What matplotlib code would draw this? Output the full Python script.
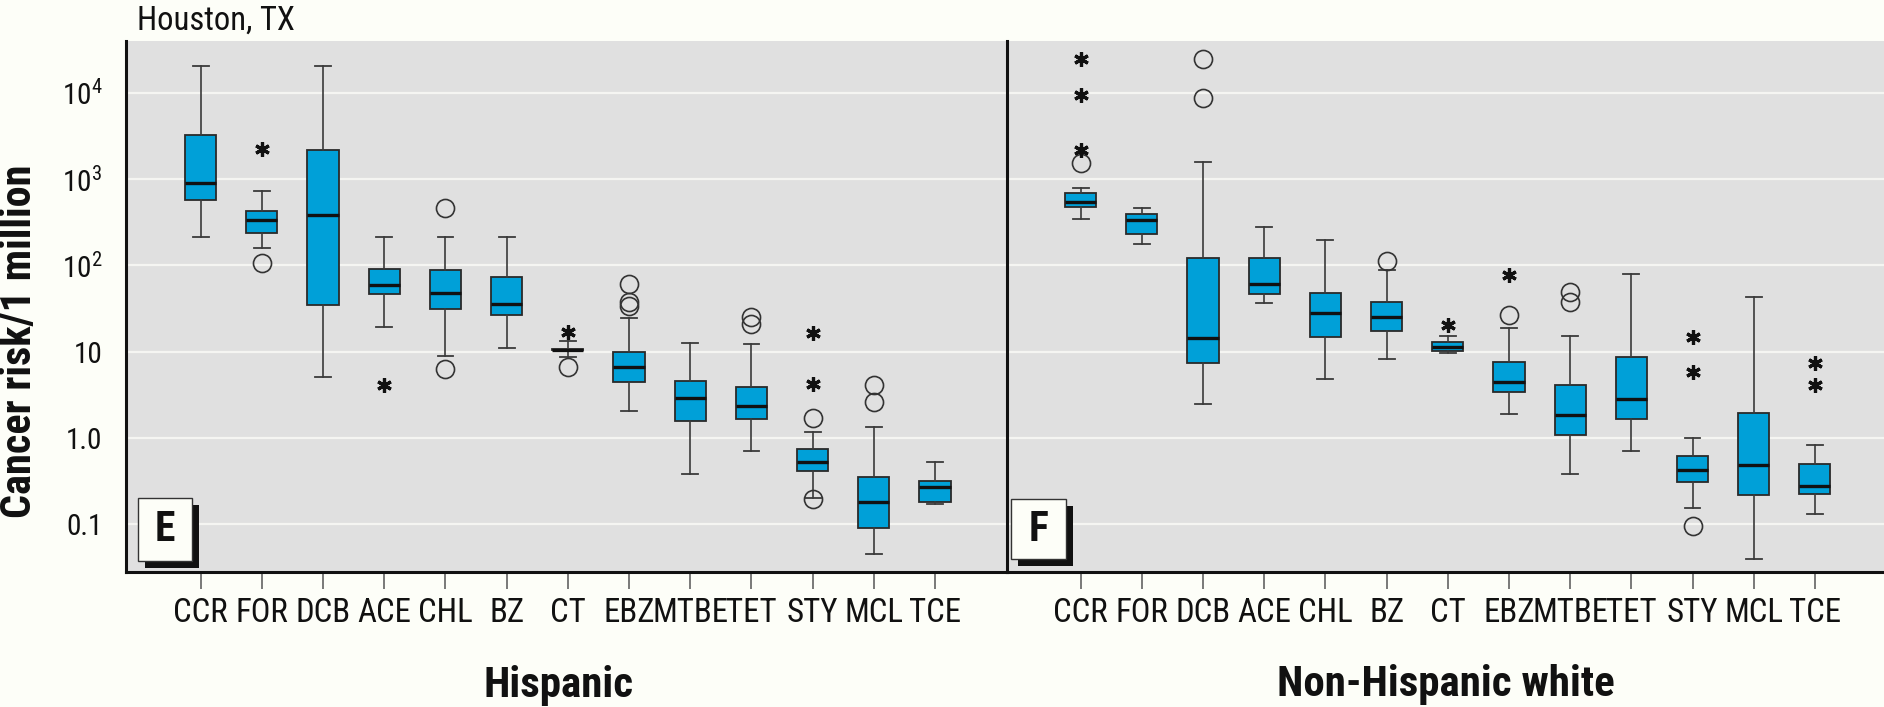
import matplotlib
matplotlib.use("Agg")
import matplotlib.pyplot as plt
from matplotlib import font_manager
from matplotlib.patches import Rectangle
from matplotlib.ticker import NullLocator

# ---------------------------------------------------------------- data
pollutants = ["CCR", "FOR", "DCB", "ACE", "CHL", "BZ", "CT",
              "EBZ", "MTBE", "TET", "STY", "MCL", "TCE"]

# Hispanic households: five-number summaries (cancer risk per million)
hisp_whislo = [214, 158, 5.14, 19.5, 8.93, 11.0, 8.6, 2.04, 0.386, 0.70, 0.20, 0.045, 0.172]
hisp_q1     = [569, 240, 34.8, 46.3, 31.0, 26.7, 10.4, 4.43, 1.56, 1.65, 0.419, 0.090, 0.183]
hisp_med    = [895, 336, 385, 59.3, 48.3, 35.5, 10.6, 6.7, 2.94, 2.37, 0.524, 0.180, 0.273]
hisp_q3     = [3220, 428, 2178, 91.6, 87.9, 74.1, 10.8, 10.0, 4.63, 3.87, 0.753, 0.356, 0.321]
hisp_whishi = [20650, 735, 20650, 211, 211, 211, 13.4, 24.4, 12.5, 12.3, 1.19, 1.33, 0.532]
hisp_outliers = [[], [106], [], [], [459, 6.27], [], [6.7], [60.5, 37.7, 34.2],
                 [], [25.5, 21.0], [1.71, 0.195], [4.12, 2.64], []]
hisp_extremes = [[], [2233], [], [4.12], [], [], [17.1], [],
                 [], [], [16.4, 4.23], [], []]

# Non-Hispanic white households
white_whislo = [345, 177, 2.50, 36.4, 4.83, 8.3, 9.6, 1.88, 0.383, 0.713, 0.153, 0.0397, 0.131]
white_q1     = [472, 231, 7.47, 46.7, 14.9, 17.5, 10.3, 3.44, 1.08, 1.65, 0.307, 0.219, 0.223]
white_med    = [548, 336, 14.3, 60.9, 27.9, 25.1, 11.3, 4.50, 1.85, 2.84, 0.427, 0.491, 0.278]
white_q3     = [697, 394, 123, 123, 48.3, 38.0, 13.1, 7.67, 4.12, 8.77, 0.62, 1.94, 0.494]
white_whishi = [783, 459, 1567, 281, 197, 88.5, 15.2, 18.7, 15.1, 78.9, 0.993, 42.8, 0.837]
white_outliers = [[1528], [], [24500, 8650], [], [], [113], [], [26.7],
                  [49.7, 38.0], [], [0.0964], [], []]
white_extremes = [[24500, 9440, 2178], [], [], [], [], [], [20.4], [77.5],
                  [], [], [14.9, 5.87], [], [7.35, 4.12]]

ytick_values = [1e4, 1e3, 1e2, 10, 1, 0.1]
ytick_labels = [r"$\mathregular{10^4}$", r"$\mathregular{10^3}$",
                r"$\mathregular{10^2}$", "10", "1.0", "0.1"]

# ---------------------------------------------------------------- fonts
# prefer a condensed sans face for the narrow lettering
ttf = font_manager.fontManager.ttflist
names = {f.name for f in ttf}
CONDENSED = {"condensed", "semi-condensed", "extra-condensed", "ultra-condensed"}

FAMILY, STRETCH = "Liberation Sans", "normal"
for cand in ("Liberation Sans Narrow", "Roboto Condensed", "Open Sans Condensed",
             "Noto Sans Condensed", "DejaVu Sans Condensed"):
    if cand in names:
        FAMILY = cand
        break
else:
    for cand in ("Noto Sans", "Roboto", "Open Sans", "DejaVu Sans"):
        if any(f.name == cand and str(f.stretch) in CONDENSED for f in ttf):
            FAMILY, STRETCH = cand, "condensed"
            break

plt.rcParams["font.family"] = [FAMILY, "DejaVu Sans"]
plt.rcParams["font.stretch"] = STRETCH
plt.rcParams["mathtext.fontset"] = "custom"
pattern = FAMILY if STRETCH == "normal" else FAMILY + ":stretch=condensed"
plt.rcParams["mathtext.rm"] = pattern
plt.rcParams["mathtext.it"] = pattern
plt.rcParams["mathtext.bf"] = pattern + ":weight=bold"

PAGE = "#FDFEF8"
PANEL = "#E0E0E0"
GRID = "#F5F5F2"
BOX = "#00A0D8"
EDGE = "#2A2A2A"
INK = "#111111"

W, H, DPI = 1884, 707, 100


def fx(px):
    return px / W


def fy(py):
    return 1 - py / H


fig = plt.figure(figsize=(W / DPI, H / DPI), dpi=DPI, facecolor=PAGE)
renderer = fig.canvas.get_renderer()


def fit_size(text, width_px, base, weight="normal"):
    """Largest size up to `base` at which `text` spans at most `width_px`."""
    t = fig.text(0, 0, text, fontsize=base, fontweight=weight)
    w = t.get_window_extent(renderer).width
    t.remove()
    return min(base, base * width_px / w)


size_xtick = fit_size("MTBE", 76, 25)
size_ytick = fit_size("10", 29, 23)
size_loc = fit_size("Houston, TX", 158, 26)
size_ylab = fit_size("Cancer risk/1 million", 353, 31, "bold")
size_grp = fit_size("Non-Hispanic white", 342, 31, "bold")
size_letter = 30

top, bottom = 40.7, 572.3
ax_h = fig.add_axes([fx(126), fy(bottom), fx(1007.3) - fx(126), fy(top) - fy(bottom)])
ax_w = fig.add_axes([fx(1007.3), fy(bottom), 1 - fx(1007.3), fy(top) - fy(bottom)],
                    sharey=ax_h)


def stats(lo, q1, med, q3, hi, outl):
    return [dict(whislo=a, q1=b, med=c, q3=d, whishi=e, fliers=f)
            for a, b, c, d, e, f in zip(lo, q1, med, q3, hi, outl)]


def draw_panel(ax, st, extremes, xlim):
    pos = list(range(len(pollutants)))
    ax.set_facecolor(PANEL)
    ax.set_yscale("log")
    ax.set_ylim(0.0278, 40180)
    ax.set_xlim(*xlim)
    ax.set_axisbelow(True)
    ax.yaxis.grid(True, which="major", color=GRID, lw=1.6)
    ax.xaxis.grid(False)
    ax.yaxis.set_minor_locator(NullLocator())

    ax.bxp(st, positions=pos, widths=0.51, capwidths=0.26, patch_artist=True,
           manage_ticks=False,
           boxprops=dict(facecolor=BOX, edgecolor=EDGE, linewidth=1.3),
           medianprops=dict(color=INK, linewidth=2.4, solid_capstyle="butt"),
           whiskerprops=dict(color="#3A3A3A", linewidth=1.2),
           capprops=dict(color="#3A3A3A", linewidth=1.3),
           flierprops=dict(marker="o", markersize=13, markerfacecolor="none",
                           markeredgecolor="#333333", markeredgewidth=1.2,
                           linestyle="none"),
           zorder=3)

    for p, vals in zip(pos, extremes):
        if vals:
            ax.plot([p] * len(vals), vals, linestyle="none", marker=(6, 2, 0),
                    markersize=10.5, markeredgewidth=2.3, color=INK, zorder=4)

    ax.set_xticks(pos, pollutants)
    ax.tick_params(axis="x", direction="out", length=12, width=1.1, color="#555555",
                   pad=6, labelsize=size_xtick, labelcolor=INK)
    for s in ("top", "right"):
        ax.spines[s].set_visible(False)
    for s in ("bottom", "left"):
        ax.spines[s].set_linewidth(2.2)
        ax.spines[s].set_color(INK)


draw_panel(ax_h, stats(hisp_whislo, hisp_q1, hisp_med, hisp_q3, hisp_whishi, hisp_outliers),
           hisp_extremes, (-1.22, 13.18))
draw_panel(ax_w, stats(white_whislo, white_q1, white_med, white_q3, white_whishi, white_outliers),
           white_extremes, (-1.2, 13.13))

ax_h.set_yticks(ytick_values, ytick_labels)
ax_h.tick_params(axis="y", length=0, pad=17, labelsize=size_ytick, labelcolor=INK)
ax_w.tick_params(axis="y", length=0, labelleft=False)

# group captions
fig.text(fx(559), fy(697), "Hispanic", ha="center", va="baseline",
         fontsize=size_grp, fontweight="bold", color=INK)
fig.text(fx(1446), fy(696), "Non-Hispanic white", ha="center", va="baseline",
         fontsize=size_grp, fontweight="bold", color=INK)

# axis title and location
fig.text(fx(20), fy(341.5), "Cancer risk/1 million", rotation=90, ha="center",
         va="center", fontsize=size_ylab, fontweight="bold", color=INK)
fig.text(fx(137), fy(30), "Houston, TX", ha="left", va="baseline",
         fontsize=size_loc, color=INK)


# panel letters in a shadowed box
def panel_letter(x0, y0, x1, y1, letter):
    off = 7
    fig.add_artist(Rectangle((fx(x0 + off), fy(y1 + off)), fx(x1 - x0), (y1 - y0) / H,
                             transform=fig.transFigure, facecolor=INK,
                             edgecolor="none", zorder=5))
    fig.add_artist(Rectangle((fx(x0), fy(y1)), fx(x1 - x0), (y1 - y0) / H,
                             transform=fig.transFigure, facecolor=PAGE,
                             edgecolor="#333333", linewidth=1.0, zorder=6))
    fig.text(fx((x0 + x1) / 2), fy((y0 + y1) / 2), letter, ha="center", va="center",
             fontsize=size_letter, fontweight="bold", color=INK, zorder=7)


panel_letter(137.7, 498.3, 192.3, 560.7, "E")
panel_letter(1010.7, 499, 1066, 559.3, "F")

fig.savefig("out.png", dpi=DPI, facecolor=PAGE)
